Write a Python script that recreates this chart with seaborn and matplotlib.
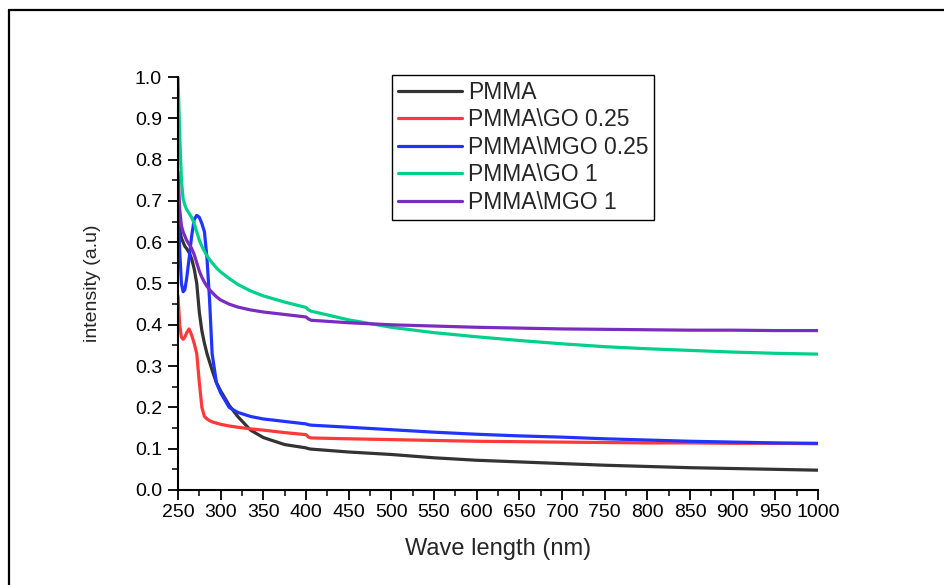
import matplotlib
matplotlib.use('Agg')
import matplotlib.pyplot as plt
from matplotlib.lines import Line2D
from matplotlib.ticker import MultipleLocator, FormatStrFormatter
import seaborn as sns
import pandas as pd

# wavelength grid (nm), denser around the absorption edge
wavelength = [250, 252, 254, 256, 258, 260, 263, 266, 269, 272, 275, 278, 281, 284, 287, 290,
              295, 300, 310, 320, 335, 350, 375, 400, 403, 406, 450, 500, 550, 600, 650, 700,
              750, 800, 850, 900, 950, 1000]

pmma = [0.66, 0.63, 0.61, 0.60, 0.59, 0.585, 0.575, 0.56, 0.535, 0.50, 0.43, 0.385, 0.355, 0.33,
        0.31, 0.29, 0.26, 0.24, 0.205, 0.178, 0.145, 0.127, 0.11, 0.102, 0.10, 0.099, 0.092, 0.086,
        0.078, 0.072, 0.068, 0.064, 0.060, 0.057, 0.054, 0.052, 0.050, 0.048]
pmma_go025 = [0.47, 0.40, 0.37, 0.365, 0.37, 0.38, 0.39, 0.375, 0.355, 0.33, 0.26, 0.20, 0.178,
              0.172, 0.168, 0.165, 0.162, 0.159, 0.155, 0.152, 0.148, 0.145, 0.139, 0.134, 0.128,
              0.126, 0.124, 0.122, 0.120, 0.118, 0.117, 0.116, 0.115, 0.114, 0.114, 0.113, 0.113, 0.112]
pmma_mgo025 = [0.68, 0.58, 0.50, 0.48, 0.485, 0.51, 0.56, 0.615, 0.655, 0.665, 0.66, 0.645, 0.625,
               0.56, 0.46, 0.33, 0.26, 0.235, 0.20, 0.188, 0.178, 0.172, 0.166, 0.16, 0.158, 0.157,
               0.152, 0.146, 0.140, 0.135, 0.131, 0.128, 0.124, 0.121, 0.118, 0.116, 0.114, 0.113]
pmma_go1 = [1.0, 0.86, 0.75, 0.705, 0.69, 0.68, 0.67, 0.66, 0.645, 0.625, 0.605, 0.59, 0.578, 0.567,
            0.558, 0.55, 0.538, 0.528, 0.512, 0.498, 0.482, 0.47, 0.455, 0.442, 0.436, 0.433, 0.412,
            0.394, 0.381, 0.371, 0.362, 0.354, 0.347, 0.342, 0.338, 0.334, 0.331, 0.329]
pmma_mgo1 = [0.77, 0.68, 0.64, 0.625, 0.615, 0.605, 0.595, 0.585, 0.57, 0.55, 0.53, 0.515, 0.503,
             0.493, 0.485, 0.478, 0.468, 0.46, 0.45, 0.443, 0.436, 0.431, 0.425, 0.419, 0.414, 0.411,
             0.405, 0.400, 0.397, 0.394, 0.392, 0.390, 0.389, 0.388, 0.387, 0.387, 0.386, 0.386]

names = ['PMMA', 'PMMA\\GO 0.25', 'PMMA\\MGO 0.25', 'PMMA\\GO 1', 'PMMA\\MGO 1']
series = [pmma, pmma_go025, pmma_mgo025, pmma_go1, pmma_mgo1]
colors = ['#333333', '#ff3838', '#1f35ff', '#00d08a', '#7a2cbf']

rows = []
for name, vals in zip(names, series):
    for w, v in zip(wavelength, vals):
        rows.append({'wl': w, 'I': v, 'sample': name})
df = pd.DataFrame(rows)

sns.set_style('ticks')
plt.rcParams['font.family'] = ['Liberation Sans', 'DejaVu Sans']

fig = plt.figure(figsize=(9.44, 5.85), dpi=100)
ax = fig.add_axes([178/944, 1-490/585, 640/944, 413/585])

sns.lineplot(data=df, x='wl', y='I', hue='sample', hue_order=names,
             palette=dict(zip(names, colors)), linewidth=2.3, errorbar=None, ax=ax)

ax.set_xlim(250, 1000)
ax.set_ylim(0, 1.0)
ax.xaxis.set_major_locator(MultipleLocator(50))
ax.xaxis.set_minor_locator(MultipleLocator(25))
ax.yaxis.set_major_locator(MultipleLocator(0.1))
ax.yaxis.set_minor_locator(MultipleLocator(0.05))
ax.yaxis.set_major_formatter(FormatStrFormatter('%.1f'))
ax.tick_params(which='major', direction='out', length=7, width=1.3, labelsize=14, colors='black')
ax.tick_params(which='minor', direction='out', length=4, width=1.3)
ax.tick_params(axis='x', which='major', pad=3)
ax.tick_params(axis='y', which='major', pad=4.5)
for s in ['left', 'bottom']:
    ax.spines[s].set_linewidth(1.5)
    ax.spines[s].set_color('black')
sns.despine(ax=ax)

ax.set_xlabel('Wave length (nm)', fontsize=17, labelpad=12)
ax.set_ylabel('intensity (a.u)', fontsize=14, labelpad=24)

handles, labels = ax.get_legend_handles_labels()
lg = ax.legend(handles, labels, loc='upper left', bbox_to_anchor=(392/944, 1-75/585),
               bbox_transform=fig.transFigure, fontsize=16.5, frameon=True, fancybox=False,
               edgecolor='black', framealpha=1, handlelength=2.8, borderpad=0.25,
               labelspacing=0.2, handletextpad=0.25, borderaxespad=0)
lg.get_frame().set_linewidth(1.0)

# outer frame of the original figure
fig.add_artist(Line2D([9/944, 9/944], [0, 1-10/585], transform=fig.transFigure, color='black', lw=1.6))
fig.add_artist(Line2D([9/944, 1], [1-10/585, 1-10/585], transform=fig.transFigure, color='black', lw=1.6))

plt.savefig('out.png', dpi=100)
plt.close()
